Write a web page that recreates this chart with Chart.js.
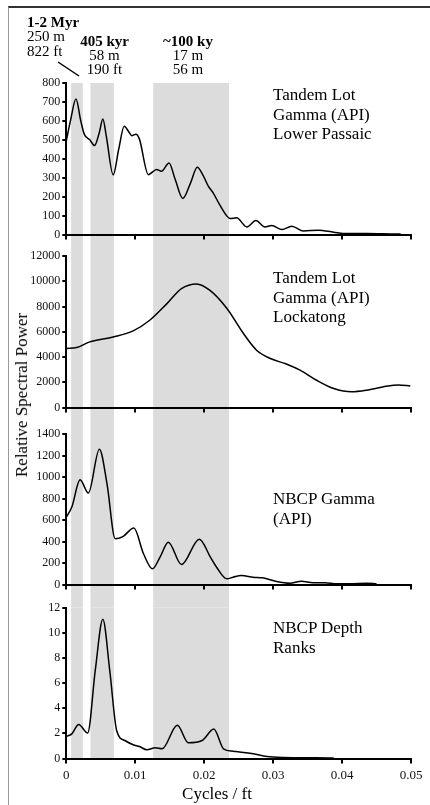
<!DOCTYPE html>
<html>
<head>
<meta charset="utf-8">
<script src="https://cdn.jsdelivr.net/npm/chart.js@4"></script>
<style>
  html, body { margin: 0; padding: 0; background: #fff; }
  #wrap { position: relative; width: 430px; height: 805px; overflow: hidden; font-family: "Liberation Serif", "Times New Roman", serif; color: #000; }
  canvas { position: absolute; left: 0; top: 0; }
  .frame { position: absolute; left: 8px; top: 6px; width: 440px; height: 820px; border-top: 2px solid #333; border-left: 1.5px solid #999; }
  .lbl { position: absolute; font-size: 17px; line-height: 19.5px; white-space: nowrap; }
  .band { position: absolute; font-size: 15px; line-height: 14.3px; white-space: nowrap; }
  .c { transform: translateX(-50%); text-align: center; }
  .ytitle { position: absolute; left: 22px; top: 395px; font-size: 17px; white-space: nowrap; transform: translate(-50%, -50%) rotate(-90deg); }
  .xtitle { position: absolute; left: 217px; top: 794px; font-size: 17px; white-space: nowrap; transform: translate(-50%, -50%); }
  #diag { position: absolute; left: 0; top: 0; }
</style>
</head>
<body>
<div id="wrap">
  <div class="frame"></div>
  <canvas id="c1" width="430" height="805"></canvas>
  <canvas id="c2" width="430" height="805"></canvas>
  <canvas id="c3" width="430" height="805"></canvas>
  <canvas id="c4" width="430" height="805"></canvas>
  <svg id="diag" width="430" height="100"><line x1="58" y1="62" x2="79" y2="76" stroke="#000" stroke-width="1.5"/></svg>

  <div class="band" style="left:27px; top:15px;"><b>1-2 Myr</b><br>250 m<br>822 ft</div>
  <div class="band c" style="left:104.5px; top:33.5px;"><b>405 kyr</b><br>58 m<br>190 ft</div>
  <div class="band c" style="left:188px; top:33.5px;"><b>~100 ky</b><br>17 m<br>56 m</div>

  <div class="lbl" style="left:273px; top:85px;">Tandem Lot<br>Gamma (API)<br>Lower Passaic</div>
  <div class="lbl" style="left:273px; top:268px;">Tandem Lot<br>Gamma (API)<br>Lockatong</div>
  <div class="lbl" style="left:273px; top:489px;">NBCP Gamma<br>(API)</div>
  <div class="lbl" style="left:273px; top:618px;">NBCP Depth<br>Ranks</div>

  <div class="ytitle">Relative Spectral Power</div>
  <div class="xtitle">Cycles / ft</div>
</div>
<script>
// ---- Data ----
const xTickValues = [0, 0.01, 0.02, 0.03, 0.04, 0.05];

// Shaded orbital bands (cycles/ft): 1-2 Myr, 405 kyr, ~100 ky
const bandStart = [0.0007, 0.0035, 0.0126];
const bandEnd   = [0.0024, 0.0069, 0.0236];

// Panel 1: Tandem Lot Gamma (API) Lower Passaic
const passaicFreq  = [0, 0.0006, 0.0014, 0.0021, 0.0026, 0.0034, 0.0041, 0.0048, 0.0053, 0.0058, 0.0068, 0.0076, 0.0084, 0.0091, 0.0095, 0.0101, 0.0106, 0.0119, 0.0125, 0.0131, 0.0138, 0.0149, 0.0158, 0.0169, 0.018, 0.019, 0.0198, 0.0206, 0.0213, 0.0222, 0.0233, 0.0238, 0.0247, 0.0262, 0.0275, 0.0288, 0.0298, 0.0313, 0.0327, 0.0344, 0.0366, 0.0388, 0.0407, 0.0436, 0.047, 0.0485];
const passaicPower = [495, 600, 715, 600, 530, 500, 470, 540, 610, 520, 315, 450, 572, 540, 522, 530, 505, 316, 330, 343, 334, 378, 290, 190, 270, 355, 315, 255, 220, 160, 97, 84, 88, 40, 74, 40, 47, 26, 44, 18, 23, 12, 5, 5, 3, 2];
const passaicTicks = [0, 100, 200, 300, 400, 500, 600, 700, 800];

// Panel 2: Tandem Lot Gamma (API) Lockatong
const lockFreq  = [0, 0.0015, 0.0034, 0.0068, 0.0097, 0.0121, 0.0146, 0.0167, 0.0189, 0.0208, 0.0233, 0.0257, 0.0276, 0.0296, 0.032, 0.0339, 0.0363, 0.0388, 0.0414, 0.0436, 0.046, 0.0482, 0.0499];
const lockPower = [4670, 4750, 5200, 5590, 6070, 6910, 8230, 9420, 9790, 9290, 7840, 5860, 4540, 3880, 3430, 2960, 2160, 1500, 1240, 1370, 1640, 1790, 1710];
const lockTicks = [0, 2000, 4000, 6000, 8000, 10000, 12000];

// Panel 3: NBCP Gamma (API)
const nbcpGammaFreq  = [0, 0.0008, 0.002, 0.0032, 0.0048, 0.0059, 0.0071, 0.0082, 0.0098, 0.0112, 0.0125, 0.0136, 0.0148, 0.0167, 0.0193, 0.0209, 0.0218, 0.0233, 0.0242, 0.0254, 0.0271, 0.0285, 0.0305, 0.0324, 0.0341, 0.0358, 0.0375, 0.0392, 0.0411, 0.0436, 0.045];
const nbcpGammaPower = [627, 720, 975, 851, 1258, 938, 425, 445, 525, 286, 146, 255, 394, 186, 422, 255, 161, 53, 68, 84, 68, 62, 28, 12, 31, 16, 16, 6, 6, 12, 6];
const nbcpGammaTicks = [0, 200, 400, 600, 800, 1000, 1200, 1400];

// Panel 4: NBCP Depth Ranks
const depthFreq  = [0, 0.0008, 0.0018, 0.0031, 0.0042, 0.0053, 0.0063, 0.0073, 0.0085, 0.0097, 0.0106, 0.0117, 0.0129, 0.0139, 0.0161, 0.0177, 0.0197, 0.0214, 0.0228, 0.0242, 0.0271, 0.0291, 0.0315, 0.0363, 0.0388];
const depthPower = [1.75, 1.96, 2.71, 2.02, 7.0, 11.07, 7.0, 2.23, 1.43, 1.09, 0.95, 0.69, 0.85, 0.77, 2.65, 1.25, 1.43, 2.34, 0.77, 0.58, 0.37, 0.16, 0.08, 0.05, 0.03];
const depthTicks = [0, 2, 4, 6, 8, 10, 12];

// ---- Layout (pixel positions of each panel's plot area) ----
const H = 805;
const panels = [
  { id: 'c1', freq: passaicFreq, power: passaicPower, ticks: passaicTicks, top: 83, bottom: 234.5 },
  { id: 'c2', freq: lockFreq, power: lockPower, ticks: lockTicks, top: 256, bottom: 407.5 },
  { id: 'c3', freq: nbcpGammaFreq, power: nbcpGammaPower, ticks: nbcpGammaTicks, top: 434, bottom: 584.5 },
  { id: 'c4', freq: depthFreq, power: depthPower, ticks: depthTicks, top: 607.5, bottom: 758.5 }
];

const bandsPlugin = {
  id: 'bands',
  beforeDraw(chart, args, opts) {
    const x = chart.scales.x;
    const ctx = chart.ctx;
    ctx.save();
    ctx.fillStyle = '#dcdcdc';
    for (let i = 0; i < bandStart.length; i++) {
      const a = x.getPixelForValue(bandStart[i]);
      const b = x.getPixelForValue(bandEnd[i]);
      ctx.fillRect(a, opts.from, b - a, opts.to - opts.from);
    }
    ctx.restore();
  }
};

const FONT = "'Liberation Serif', 'Times New Roman', serif";

panels.forEach((p, idx) => {
  const last = idx === panels.length - 1;
  const xh = last ? 40 : 6;
  const yTicks = p.ticks;
  const bandTo = last ? p.bottom : panels[idx + 1].top;
  new Chart(document.getElementById(p.id), {
    type: 'line',
    data: {
      datasets: [{
        data: p.freq.map((f, i) => ({ x: f, y: p.power[i] })),
        borderColor: '#000',
        borderWidth: 1.5,
        pointRadius: 0,
        fill: false,
        cubicInterpolationMode: 'monotone'
      }]
    },
    plugins: [bandsPlugin],
    options: {
      responsive: false,
      animation: false,
      events: [],
      layout: { padding: { left: 0, right: 19, top: p.top, bottom: H - p.bottom - xh } },
      plugins: {
        legend: { display: false },
        tooltip: { enabled: false },
        bands: { from: p.top, to: bandTo }
      },
      scales: {
        x: {
          type: 'linear',
          min: xTickValues[0],
          max: xTickValues[xTickValues.length - 1],
          afterBuildTicks: s => { s.ticks = xTickValues.map(v => ({ value: v })); },
          afterFit: s => { s.height = xh; },
          ticks: {
            display: last,
            autoSkip: false,
            maxRotation: 0,
            padding: 4,
            color: '#111',
            font: { family: FONT, size: 13 },
            callback: v => (v === 0 ? '0' : v.toFixed(2))
          },
          grid: { drawOnChartArea: false, drawTicks: true, tickLength: 5, color: '#000', lineWidth: 2 },
          border: { display: true, color: '#000', width: 2 }
        },
        y: {
          type: 'linear',
          min: yTicks[0],
          max: yTicks[yTicks.length - 1],
          afterBuildTicks: s => { s.ticks = yTicks.map(v => ({ value: v })); },
          afterFit: s => { s.width = 66.3; },
          ticks: {
            autoSkip: false,
            padding: 2,
            color: '#111',
            font: { family: FONT, size: 12 },
            callback: v => String(v)
          },
          grid: { drawOnChartArea: false, drawTicks: true, tickLength: 4, color: '#000', lineWidth: 2 },
          border: { display: true, color: '#000', width: 2 }
        }
      }
    }
  });
});
</script>
</body>
</html>
